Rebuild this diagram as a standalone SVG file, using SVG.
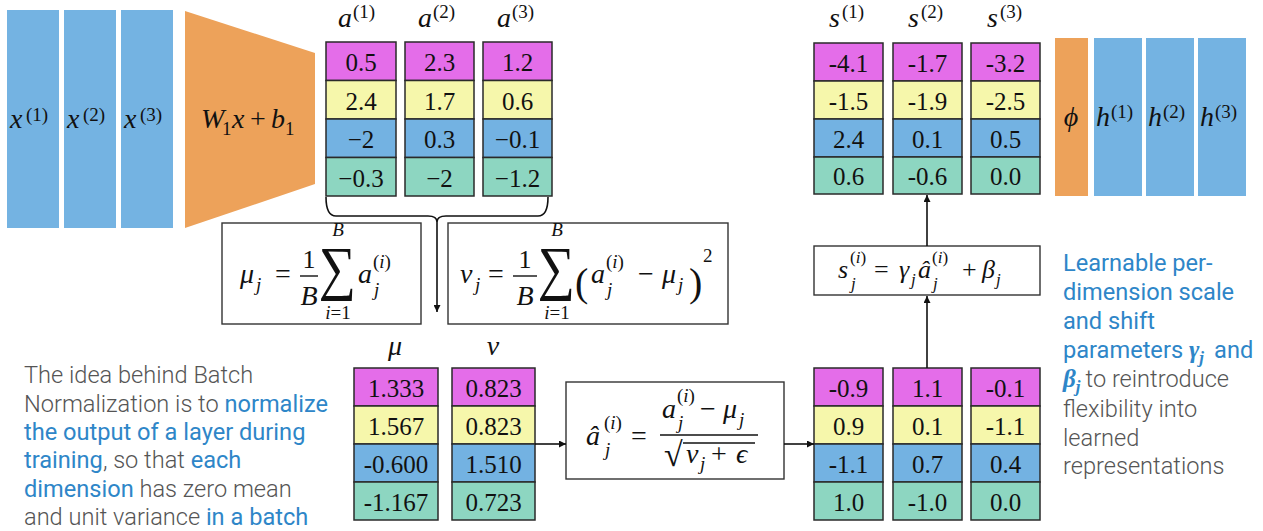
<svg xmlns="http://www.w3.org/2000/svg" width="1263" height="531" viewBox="0 0 1263 531">
<style>
.blk{fill:#74B3E2}
.org{fill:#EDA25A}
.m{fill:#E46DE9;stroke:#2a2a2a;stroke-width:1.5}
.y{fill:#F6F7AB;stroke:#2a2a2a;stroke-width:1.5}
.b{fill:#73B2E2;stroke:#2a2a2a;stroke-width:1.5}
.g{fill:#8DD6C1;stroke:#2a2a2a;stroke-width:1.5}
.num{font-family:"Liberation Serif",serif;font-size:25px;fill:#111;text-anchor:middle}
.mi{font-family:"Liberation Serif",serif;font-style:italic;fill:#111}
.mr{font-family:"Liberation Serif",serif;fill:#111}
.big{font-size:28px}
.sm{font-size:19px}
.box{fill:#fff;stroke:#333;stroke-width:1.4}
.conn{stroke:#111;stroke-width:1.6;fill:none}
.gray{font-family:Roboto,"Liberation Sans",sans-serif;font-weight:300;fill:#555;font-size:23.6px}
.blue{font-weight:400;fill:#2E86C8}
</style>
<defs>
<marker id="ah" viewBox="0 0 10 10" refX="10" refY="5" markerWidth="7" markerHeight="7" orient="auto" markerUnits="userSpaceOnUse">
<path d="M0,0 L10,5 L0,10 z" fill="#111"/>
</marker>
</defs>

<g id="x-inputs">
<rect class="blk" x="7" y="10" width="52" height="218"/>
<rect class="blk" x="64" y="10" width="52" height="218"/>
<rect class="blk" x="121" y="10" width="52" height="218"/>
<text class="mi big" x="10" y="128">x</text><text class="mr sm" x="26" y="121">(1)</text>
<text class="mi big" x="67" y="128">x</text><text class="mr sm" x="83" y="121">(2)</text>
<text class="mi big" x="124" y="128">x</text><text class="mr sm" x="140" y="121">(3)</text>
</g>

<g id="linear">
<polygon class="org" points="185,11 315,53 315,184 185,228"/>
<text class="mi big" x="201" y="128">W</text><text class="mr sm" x="222" y="135">1</text>
<text class="mi big" x="232" y="128">x</text><text class="mr big" x="250" y="128">+</text>
<text class="mi big" x="271" y="128">b</text><text class="mr sm" x="285" y="135">1</text>
</g>

<g id="a-cols">
<text class="mi big" x="338" y="27">a</text><text class="mr sm" x="353" y="18">(1)</text>
<text class="mi big" x="418" y="27">a</text><text class="mr sm" x="433" y="18">(2)</text>
<text class="mi big" x="497" y="27">a</text><text class="mr sm" x="512" y="18">(3)</text>
<rect class="m" x="326" y="42" width="70" height="38.5"/><rect class="y" x="326" y="80.5" width="70" height="38.5"/><rect class="b" x="326" y="119" width="70" height="38.5"/><rect class="g" x="326" y="157.5" width="70" height="38.5"/>
<rect class="m" x="405" y="42" width="69" height="38.5"/><rect class="y" x="405" y="80.5" width="69" height="38.5"/><rect class="b" x="405" y="119" width="69" height="38.5"/><rect class="g" x="405" y="157.5" width="69" height="38.5"/>
<rect class="m" x="483" y="42" width="69" height="38.5"/><rect class="y" x="483" y="80.5" width="69" height="38.5"/><rect class="b" x="483" y="119" width="69" height="38.5"/><rect class="g" x="483" y="157.5" width="69" height="38.5"/>
<text class="num" x="361" y="71">0.5</text><text class="num" x="361" y="109.5">2.4</text><text class="num" x="361" y="148">−2</text><text class="num" x="361" y="186.5">−0.3</text>
<text class="num" x="439.5" y="71">2.3</text><text class="num" x="439.5" y="109.5">1.7</text><text class="num" x="439.5" y="148">0.3</text><text class="num" x="439.5" y="186.5">−2</text>
<text class="num" x="517.5" y="71">1.2</text><text class="num" x="517.5" y="109.5">0.6</text><text class="num" x="517.5" y="148">−0.1</text><text class="num" x="517.5" y="186.5">−1.2</text>
</g>

<g id="mean-box">
<rect class="box" x="222" y="223" width="199" height="101"/>
<text class="mi big" x="240" y="283">μ</text><text class="mi sm" x="256" y="291">j</text>
<text class="mr big" x="275" y="283">=</text>
<text class="mr" font-size="26" x="309" y="268" text-anchor="middle">1</text>
<line x1="300" y1="276" x2="318" y2="276" stroke="#111" stroke-width="1.4"/>
<text class="mi big" x="309" y="305" text-anchor="middle">B</text>
<text class="mr" font-size="60" transform="translate(337,288) scale(0.87,1)" text-anchor="middle">∑</text>
<text class="mi sm" x="338" y="236" text-anchor="middle">B</text>
<text class="mr sm" x="338" y="319" text-anchor="middle"><tspan font-style="italic">i</tspan>=1</text>
<text class="mi big" x="358" y="283">a</text><text class="mr sm" x="373" y="268">(<tspan font-style="italic">i</tspan>)</text><text class="mi sm" x="374" y="296">j</text>
</g>

<g id="var-box">
<rect class="box" x="448" y="223" width="280" height="101"/>
<text class="mi big" x="460" y="283">v</text><text class="mi sm" x="475" y="291">j</text>
<text class="mr big" x="488" y="283">=</text>
<text class="mr" font-size="26" x="525" y="268" text-anchor="middle">1</text>
<line x1="513" y1="276" x2="537" y2="276" stroke="#111" stroke-width="1.4"/>
<text class="mi big" x="525" y="305" text-anchor="middle">B</text>
<text class="mr" font-size="60" transform="translate(556,288) scale(0.87,1)" text-anchor="middle">∑</text>
<text class="mi sm" x="557" y="236" text-anchor="middle">B</text>
<text class="mr sm" x="557" y="319" text-anchor="middle"><tspan font-style="italic">i</tspan>=1</text>
<text class="mr" font-size="40" x="575" y="296">(</text>
<text class="mi big" x="591" y="283">a</text><text class="mr sm" x="606" y="268">(<tspan font-style="italic">i</tspan>)</text><text class="mi sm" x="607" y="296">j</text>
<text class="mr big" x="638" y="283">−</text>
<text class="mi big" x="662" y="283">μ</text><text class="mi sm" x="678" y="291">j</text>
<text class="mr" font-size="40" x="689" y="296">)</text>
<text class="mr sm" x="703" y="262">2</text>
</g>

<g id="mu-v-cols">
<text class="mi big" x="395" y="355" text-anchor="middle">μ</text>
<text class="mi big" x="493" y="355" text-anchor="middle">v</text>
<rect class="m" x="354" y="368" width="84" height="38"/><rect class="y" x="354" y="406" width="84" height="38"/><rect class="b" x="354" y="444" width="84" height="38"/><rect class="g" x="354" y="482" width="84" height="38"/>
<rect class="m" x="452" y="368" width="83" height="38"/><rect class="y" x="452" y="406" width="83" height="38"/><rect class="b" x="452" y="444" width="83" height="38"/><rect class="g" x="452" y="482" width="83" height="38"/>
<text class="num" x="396" y="397">1.333</text><text class="num" x="396" y="435">1.567</text><text class="num" x="396" y="473">-0.600</text><text class="num" x="396" y="511">-1.167</text>
<text class="num" x="493.5" y="397">0.823</text><text class="num" x="493.5" y="435">0.823</text><text class="num" x="493.5" y="473">1.510</text><text class="num" x="493.5" y="511">0.723</text>
</g>

<g id="norm-box">
<rect class="box" x="566" y="382" width="218" height="97"/>
<text class="mi big" x="586" y="445">â</text><text class="mr sm" x="604" y="429">(<tspan font-style="italic">i</tspan>)</text><text class="mi sm" x="605" y="456">j</text>
<text class="mr big" x="631" y="445">=</text>
<line x1="660" y1="435" x2="758" y2="435" stroke="#111" stroke-width="1.4"/>
<text class="mi big" x="662" y="418">a</text><text class="mr sm" x="677" y="402">(<tspan font-style="italic">i</tspan>)</text><text class="mi sm" x="678" y="429">j</text>
<text class="mr big" x="700" y="418">−</text>
<text class="mi big" x="723" y="418">μ</text><text class="mi sm" x="739" y="426">j</text>
<text class="mr" font-size="34" x="664" y="466">√</text>
<line x1="683" y1="443" x2="755" y2="443" stroke="#111" stroke-width="1.4"/>
<text class="mi big" x="686" y="463">v</text><text class="mi sm" x="700" y="470">j</text>
<text class="mr big" x="711" y="463">+</text>
<text class="mi big" x="736" y="463">ϵ</text>
</g>

<g id="ahat-cols">
<rect class="m" x="814" y="368" width="69" height="38"/><rect class="y" x="814" y="406" width="69" height="38"/><rect class="b" x="814" y="444" width="69" height="38"/><rect class="g" x="814" y="482" width="69" height="38"/>
<rect class="m" x="893" y="368" width="69" height="38"/><rect class="y" x="893" y="406" width="69" height="38"/><rect class="b" x="893" y="444" width="69" height="38"/><rect class="g" x="893" y="482" width="69" height="38"/>
<rect class="m" x="971" y="368" width="69" height="38"/><rect class="y" x="971" y="406" width="69" height="38"/><rect class="b" x="971" y="444" width="69" height="38"/><rect class="g" x="971" y="482" width="69" height="38"/>
<text class="num" x="848.5" y="397">-0.9</text><text class="num" x="848.5" y="435">0.9</text><text class="num" x="848.5" y="473">-1.1</text><text class="num" x="848.5" y="511">1.0</text>
<text class="num" x="927.5" y="397">1.1</text><text class="num" x="927.5" y="435">0.1</text><text class="num" x="927.5" y="473">0.7</text><text class="num" x="927.5" y="511">-1.0</text>
<text class="num" x="1005.5" y="397">-0.1</text><text class="num" x="1005.5" y="435">-1.1</text><text class="num" x="1005.5" y="473">0.4</text><text class="num" x="1005.5" y="511">0.0</text>
</g>

<g id="scale-box">
<rect class="box" x="814" y="246" width="226" height="49"/>
<text class="mi" font-size="26" x="838" y="278">s</text><text class="mr" font-size="17" x="850" y="263">(<tspan font-style="italic">i</tspan>)</text><text class="mi" font-size="17" x="851" y="289">j</text>
<text class="mr" font-size="26" x="874" y="278">=</text>
<text class="mi" font-size="26" x="899" y="278">γ</text><text class="mi" font-size="17" x="911" y="285">j</text>
<text class="mi" font-size="26" x="918" y="278">â</text><text class="mr" font-size="17" x="932" y="263">(<tspan font-style="italic">i</tspan>)</text><text class="mi" font-size="17" x="933" y="289">j</text>
<text class="mr" font-size="26" x="962" y="278">+</text>
<text class="mi" font-size="26" x="982" y="278">β</text><text class="mi" font-size="17" x="996" y="285">j</text>
</g>

<g id="s-cols">
<text class="mi big" x="829" y="27">s</text><text class="mr sm" x="842" y="18">(1)</text>
<text class="mi big" x="908" y="27">s</text><text class="mr sm" x="921" y="18">(2)</text>
<text class="mi big" x="987" y="27">s</text><text class="mr sm" x="1000" y="18">(3)</text>
<rect class="m" x="814" y="43" width="69" height="38"/><rect class="y" x="814" y="81" width="69" height="38"/><rect class="b" x="814" y="119" width="69" height="38"/><rect class="g" x="814" y="157" width="69" height="37"/>
<rect class="m" x="893" y="43" width="69" height="38"/><rect class="y" x="893" y="81" width="69" height="38"/><rect class="b" x="893" y="119" width="69" height="38"/><rect class="g" x="893" y="157" width="69" height="37"/>
<rect class="m" x="971" y="43" width="69" height="38"/><rect class="y" x="971" y="81" width="69" height="38"/><rect class="b" x="971" y="119" width="69" height="38"/><rect class="g" x="971" y="157" width="69" height="37"/>
<text class="num" x="848.5" y="72">-4.1</text><text class="num" x="848.5" y="110">-1.5</text><text class="num" x="848.5" y="148">2.4</text><text class="num" x="848.5" y="185">0.6</text>
<text class="num" x="927.5" y="72">-1.7</text><text class="num" x="927.5" y="110">-1.9</text><text class="num" x="927.5" y="148">0.1</text><text class="num" x="927.5" y="185">-0.6</text>
<text class="num" x="1005.5" y="72">-3.2</text><text class="num" x="1005.5" y="110">-2.5</text><text class="num" x="1005.5" y="148">0.5</text><text class="num" x="1005.5" y="185">0.0</text>
</g>

<g id="activation">
<rect class="org" x="1055" y="38" width="33" height="158"/>
<rect class="blk" x="1094" y="38" width="48" height="158"/>
<rect class="blk" x="1146" y="38" width="48" height="158"/>
<rect class="blk" x="1198" y="38" width="48" height="158"/>
<text class="mi big" x="1071" y="126" text-anchor="middle">ϕ</text>
<text class="mi big" x="1096" y="126">h</text><text class="mr sm" x="1111" y="118">(1)</text>
<text class="mi big" x="1148" y="126">h</text><text class="mr sm" x="1163" y="118">(2)</text>
<text class="mi big" x="1200" y="126">h</text><text class="mr sm" x="1215" y="118">(3)</text>
</g>

<g id="connectors">
<path class="conn" d="M326,197 Q326,216 336,216 L428,216 Q437,216 437,222 Q437,216 446,216 L538,216 Q548,216 548,197"/>
<line class="conn" x1="437" y1="222" x2="437" y2="312" marker-end="url(#ah)"/>
<line class="conn" x1="535" y1="444" x2="566" y2="444" marker-end="url(#ah)"/>
<line class="conn" x1="784" y1="444" x2="814" y2="444" marker-end="url(#ah)"/>
<line class="conn" x1="927" y1="368" x2="927" y2="296" marker-end="url(#ah)"/>
<line class="conn" x1="927" y1="246" x2="927" y2="195" marker-end="url(#ah)"/>
</g>

<g id="left-note">
<text class="gray" x="24" y="383">The idea behind Batch</text>
<text class="gray" x="24" y="412">Normalization is to <tspan class="blue">normalize</tspan></text>
<text class="gray" x="24" y="440"><tspan class="blue">the output of a layer during</tspan></text>
<text class="gray" x="24" y="468"><tspan class="blue">training</tspan>, so that <tspan class="blue">each</tspan></text>
<text class="gray" x="24" y="497"><tspan class="blue">dimension</tspan> has zero mean</text>
<text class="gray" x="24" y="525">and unit variance <tspan class="blue">in a batch</tspan></text>
</g>

<g id="right-note">
<text class="gray" x="1063" y="271"><tspan class="blue">Learnable per-</tspan></text>
<text class="gray" x="1063" y="300"><tspan class="blue">dimension scale</tspan></text>
<text class="gray" x="1063" y="329"><tspan class="blue">and shift</tspan></text>
<text class="gray" x="1063" y="358"><tspan class="blue">parameters </tspan><tspan fill="#2E86C8" font-family="Liberation Serif,serif" font-style="italic" font-weight="700" font-size="25">γ</tspan><tspan fill="#2E86C8" font-family="Liberation Serif,serif" font-style="italic" font-weight="700" font-size="17" dy="5">j</tspan><tspan class="blue" dy="-5" dx="10">and</tspan></text>
<text class="gray" x="1063" y="387"><tspan fill="#2E86C8" font-family="Liberation Serif,serif" font-style="italic" font-weight="700" font-size="25">β</tspan><tspan fill="#2E86C8" font-family="Liberation Serif,serif" font-style="italic" font-weight="700" font-size="17" dy="5">j</tspan><tspan dy="-5" dx="5">to reintroduce</tspan></text>
<text class="gray" x="1063" y="417">flexibility into</text>
<text class="gray" x="1063" y="446">learned</text>
<text class="gray" x="1063" y="474">representations</text>
</g>
</svg>
